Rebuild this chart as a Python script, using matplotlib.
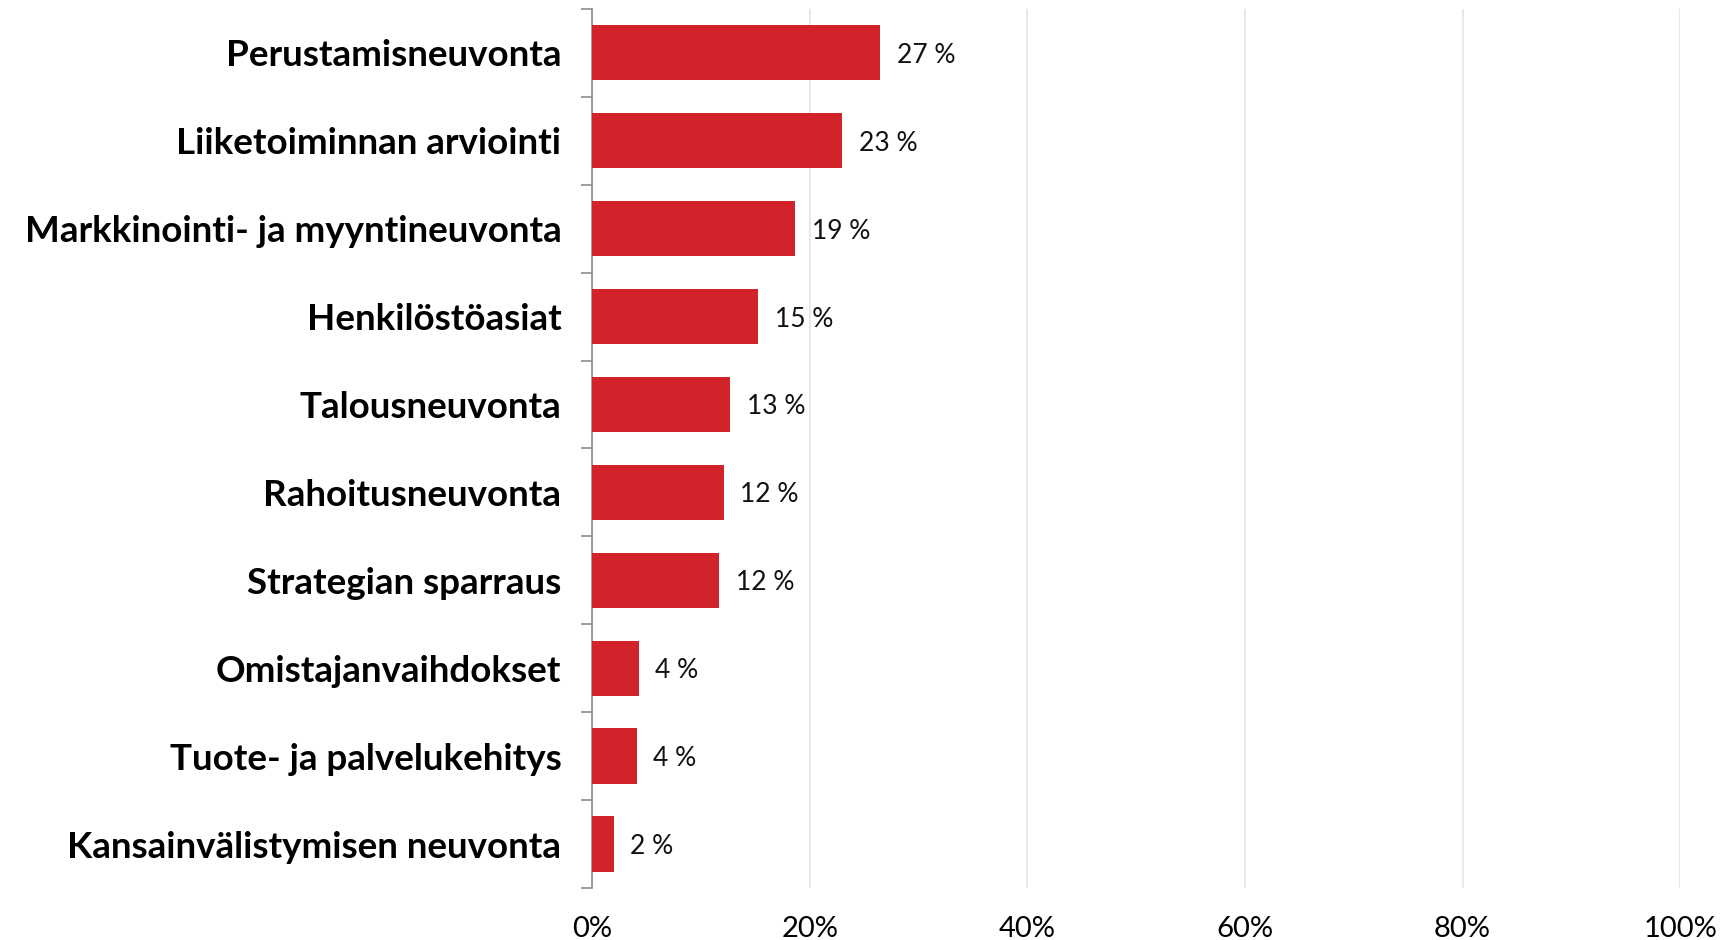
import numpy as np
import matplotlib
matplotlib.use("Agg")
import matplotlib.pyplot as plt
from matplotlib.ticker import FixedLocator

categories = [
    "Perustamisneuvonta",
    "Liiketoiminnan arviointi",
    "Markkinointi- ja myyntineuvonta",
    "Henkilöstöasiat",
    "Talousneuvonta",
    "Rahoitusneuvonta",
    "Strategian sparraus",
    "Omistajanvaihdokset",
    "Tuote- ja palvelukehitys",
    "Kansainvälistymisen neuvonta",
]
values = [26.5, 23.0, 18.7, 15.3, 12.7, 12.1, 11.7, 4.3, 4.1, 2.0]
value_labels = ["27 %", "23 %", "19 %", "15 %", "13 %", "12 %", "12 %", "4 %", "4 %", "2 %"]
xticks = [0, 20, 40, 60, 80, 100]
xtick_labels = ["0%", "20%", "40%", "60%", "80%", "100%"]

plt.rcParams['font.family'] = ['Lato', 'DejaVu Sans']

fig = plt.figure(figsize=(17.34, 9.40), dpi=100)
ax = fig.add_axes([0.3414, 0.0553, 0.6276, 0.9353])

y = np.arange(len(categories))
ax.barh(y, values, height=0.63, color="#D2232A", zorder=3)

for yi, v, lab in zip(y, values, value_labels):
    ax.annotate(lab, (v, yi), xytext=(12, 0), textcoords="offset points",
                va="center_baseline", ha="left", fontsize=19, color="#111111")

ax.set_xlim(0, 100)
ax.set_ylim(len(categories) - 0.5, -0.5)
ax.set_xticks(xticks)
ax.set_xticklabels(xtick_labels, fontsize=21)
ax.set_yticks(y)
ax.set_yticklabels(categories, fontsize=26.5, fontweight="bold")
ax.yaxis.set_minor_locator(FixedLocator(np.arange(-0.5, len(categories), 1.0)))
ax.tick_params(axis="y", which="major", length=0, pad=22)
ax.tick_params(axis="y", which="minor", length=8, color="#8c8c8c", width=1.2)
ax.tick_params(axis="x", length=0, pad=20)

ax.grid(axis="x", color="#dbe5f1", linewidth=1.2, zorder=0)
for s in ["top", "right", "bottom"]:
    ax.spines[s].set_visible(False)
ax.spines["left"].set_color("#8c8c8c")
ax.spines["left"].set_linewidth(1.2)

fig.savefig("out.png", dpi=100)
